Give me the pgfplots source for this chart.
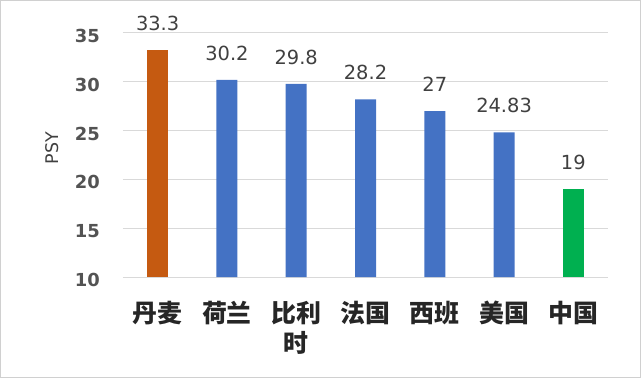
\documentclass[border=0pt]{standalone}
\usepackage{fontspec}
\setmainfont{DejaVu Sans}
\newfontfamily\cjk{Noto Sans CJK SC}
\usepackage{pgfplots}
\pgfplotsset{compat=1.18}
\definecolor{barorange}{HTML}{C55A11}
\definecolor{barblue}{HTML}{4472C4}
\definecolor{bargreen}{HTML}{00B050}
\definecolor{gridgray}{HTML}{D9D9D9}
\definecolor{txt}{HTML}{404040}
\definecolor{framegray}{HTML}{D0D0D0}
\begin{document}
\begin{tikzpicture}
\useasboundingbox (-123bp,-101bp) rectangle (518bp,277bp);
\draw[framegray, line width=1bp] (-122.5bp,-100.5bp) rectangle (517.5bp,276.5bp);
\begin{axis}[
  scale only axis,
  width=485bp, height=244bp,
  at={(0,0)}, anchor=south west,
  xmin=-0.5, xmax=6.5,
  ymin=10, ymax=35,
  ytick={10,15,20,25,30,35},
  xtick={0,1,2,3,4,5,6},
  xticklabels={丹麦,荷兰,{比利\\时},法国,西班,美国,中国},
  major tick length=0pt,
  axis line style={draw=none},
  ymajorgrids,
  grid style={gridgray, line width=1bp},
  /pgf/number format/assume math mode=true,
  yticklabel style={font=\fontsize{18}{22}\selectfont\bfseries, text=txt!90, inner sep=0pt, anchor=east, xshift=-23bp, yshift=-3bp},
  xticklabel style={font=\fontsize{25}{30}\selectfont\cjk\bfseries, text=black!85, align=center, inner sep=0pt, anchor=north, yshift=-24bp},
  ylabel={PSY},
  ylabel style={at={(axis description cs:-0.1464,0.529)}, anchor=center, font=\fontsize{17.5}{21}\selectfont, text=txt},
  ybar, bar width=21bp, bar shift=0pt,
  nodes near coords,
  nodes near coords style={font=\fontsize{19.5}{23}\selectfont, text=txt, inner sep=0pt, anchor=south, yshift=19bp},
  clip=false,
]
\addplot[fill=barorange, draw=none] coordinates {(0,33.3)};
\addplot[fill=barblue, draw=none] coordinates {(1,30.2) (2,29.8) (3,28.2) (4,27) (5,24.83)};
\addplot[fill=bargreen, draw=none] coordinates {(6,19)};
\end{axis}
\end{tikzpicture}
\end{document}
